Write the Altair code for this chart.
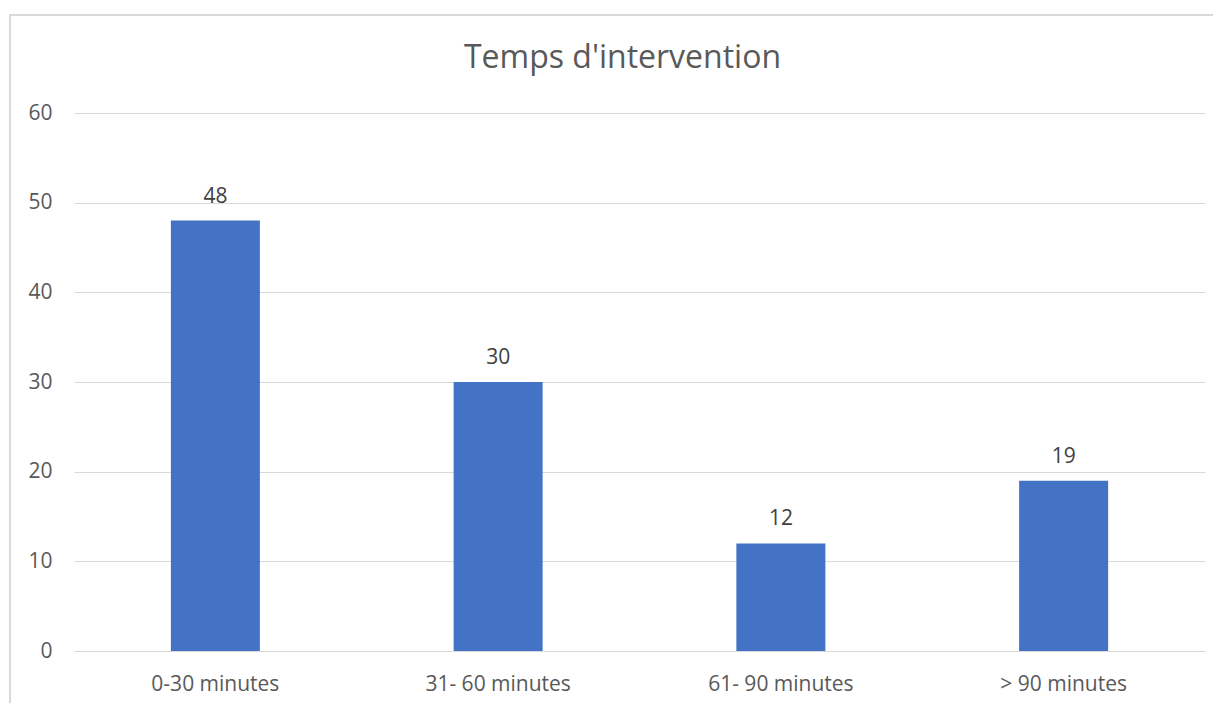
import altair as alt
import pandas as pd

categories = ["0-30 minutes", "31- 60 minutes", "61- 90 minutes", "> 90 minutes"]
values = [48, 30, 12, 19]
title_text = "Temps d'intervention"

df = pd.DataFrame({"cat": categories, "val": values})

W, H = 1131, 538
FONT = "Open Sans"
TXT = "#595959"

x = alt.X("cat:N", sort=categories, title=None,
          scale=alt.Scale(paddingInner=0, paddingOuter=0),
          axis=alt.Axis(labelAngle=0, labelFontSize=21, labelColor=TXT, labelFont=FONT,
                        labelPadding=22, ticks=False, grid=False,
                        domainColor="#d9d9d9", domainWidth=1))
y = alt.Y("val:Q", title=None,
          scale=alt.Scale(domain=[0, 60], nice=False),
          axis=alt.Axis(values=[0, 10, 20, 30, 40, 50, 60], labelFontSize=21, labelColor=TXT,
                        labelFont=FONT, labelPadding=22, ticks=False, domain=False,
                        gridColor="#d9d9d9", gridWidth=1))

base = alt.Chart(df)
bars = base.mark_bar(color="#4472C4", size=89).encode(x=x, y=y)
labels = base.mark_text(dy=-24, fontSize=21, color="#404040", font=FONT).encode(
    x=alt.X("cat:N", sort=categories), y="val:Q", text="val:Q")

frame = alt.Chart(pd.DataFrame({"a": [0]})).mark_rect(
    fill=None, stroke="#d9d9d9", strokeWidth=2, clip=False).encode(
    x=alt.value(-64), x2=alt.value(W + 60), y=alt.value(-98), y2=alt.value(H + 80))

title = alt.Chart(pd.DataFrame({"t": [title_text]})).mark_text(
    fontSize=32, font=FONT, color=TXT, baseline="middle", align="center").encode(
    x=alt.value(W / 2 - 17), y=alt.value(-55), text="t:N")

chart = alt.layer(frame, bars, labels, title).properties(
    width=W, height=H,
    background="white",
    autosize=alt.AutoSizeParams(type="none"),
    padding={"left": 66, "top": 105, "right": 8, "bottom": 52},
).configure_view(stroke="transparent", strokeWidth=0)

chart.save("out.html", embed_options={"renderer": "svg", "actions": False})
